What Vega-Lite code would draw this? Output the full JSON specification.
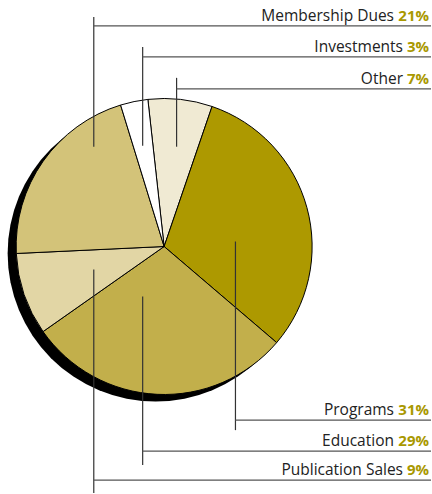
{
  "$schema": "https://vega.github.io/schema/vega-lite/v6.json",
  "width": 432,
  "height": 494,
  "autosize": {"type": "fit", "contains": "padding"},
  "padding": 0,
  "background": "white",
  "config": {"font": "Open Sans", "view": {"stroke": null}},
  "datasets": {
    "slices": [
      {"category": "Other", "share": 0.07, "idx": 1, "labelY": 89, "leaderX": 177, "leaderTop": 78, "leaderBottom": 147},
      {"category": "Programs", "share": 0.31, "idx": 2, "labelY": 421, "leaderX": 236, "leaderTop": 242, "leaderBottom": 431},
      {"category": "Education", "share": 0.29, "idx": 3, "labelY": 452, "leaderX": 143, "leaderTop": 297, "leaderBottom": 466},
      {"category": "Publication Sales", "share": 0.09, "idx": 4, "labelY": 481, "leaderX": 94, "leaderTop": 270, "leaderBottom": 494},
      {"category": "Membership Dues", "share": 0.21, "idx": 5, "labelY": 26, "leaderX": 94, "leaderTop": 17, "leaderBottom": 147},
      {"category": "Investments", "share": 0.03, "idx": 6, "labelY": 57, "leaderX": 143, "leaderTop": 47, "leaderBottom": 146}
    ]
  },
  "data": {"name": "slices"},
  "layer": [
    {
      "data": {"values": [{"shadow": 1}]},
      "mark": {"type": "arc", "radius": 148, "theta": 0, "theta2": 6.2832, "fill": "#000000"},
      "encoding": {
        "x": {"datum": 156, "type": "quantitative", "scale": {"domain": [0, 432], "nice": false, "zero": false}, "axis": null},
        "y": {"datum": 254, "type": "quantitative", "scale": {"domain": [0, 494], "nice": false, "zero": false, "reverse": true}, "axis": null}
      }
    },
    {
      "mark": {"type": "arc", "radius": 148, "stroke": "#000000", "strokeWidth": 1},
      "encoding": {
        "x": {"datum": 164.5, "type": "quantitative", "scale": {"domain": [0, 432], "nice": false, "zero": false}, "axis": null},
        "y": {"datum": 247, "type": "quantitative", "scale": {"domain": [0, 494], "nice": false, "zero": false, "reverse": true}, "axis": null},
        "theta": {"field": "share", "type": "quantitative", "stack": true, "scale": {"range": [-0.11, 6.1732]}},
        "order": {"field": "idx", "type": "quantitative"},
        "color": {
          "field": "category",
          "type": "nominal",
          "legend": null,
          "scale": {
            "domain": ["Other", "Programs", "Education", "Publication Sales", "Membership Dues", "Investments"],
            "range": ["#F0EAD3", "#AD9900", "#C2AF4B", "#E2D6A5", "#D3C379", "#FFFFFF"]
          }
        }
      }
    },
    {
      "mark": {"type": "rule", "color": "#333333", "strokeWidth": 1.2},
      "encoding": {
        "x": {"field": "leaderX", "type": "quantitative"},
        "y": {"field": "leaderTop", "type": "quantitative"},
        "y2": {"field": "leaderBottom"}
      }
    },
    {
      "mark": {"type": "rule", "color": "#555555", "strokeWidth": 1.3},
      "encoding": {
        "x": {"field": "leaderX", "type": "quantitative"},
        "x2": {"datum": 432},
        "y": {"field": "labelY", "type": "quantitative"}
      }
    },
    {
      "mark": {"type": "text", "align": "right", "baseline": "alphabetic", "dy": -5, "fontSize": 15, "fontWeight": "bold", "color": "#A99800"},
      "encoding": {
        "x": {"datum": 430, "type": "quantitative"},
        "y": {"field": "labelY", "type": "quantitative"},
        "text": {"field": "share", "type": "quantitative", "format": ".0%"}
      }
    },
    {
      "transform": [{"filter": "datum.share >= 0.1"}],
      "mark": {"type": "text", "align": "right", "baseline": "alphabetic", "dy": -5, "dx": -35, "fontSize": 15.5, "color": "#222222"},
      "encoding": {
        "x": {"datum": 430, "type": "quantitative"},
        "y": {"field": "labelY", "type": "quantitative"},
        "text": {"field": "category", "type": "nominal"}
      }
    },
    {
      "transform": [{"filter": "datum.share < 0.1"}],
      "mark": {"type": "text", "align": "right", "baseline": "alphabetic", "dy": -5, "dx": -26, "fontSize": 15.5, "color": "#222222"},
      "encoding": {
        "x": {"datum": 430, "type": "quantitative"},
        "y": {"field": "labelY", "type": "quantitative"},
        "text": {"field": "category", "type": "nominal"}
      }
    }
  ]
}
